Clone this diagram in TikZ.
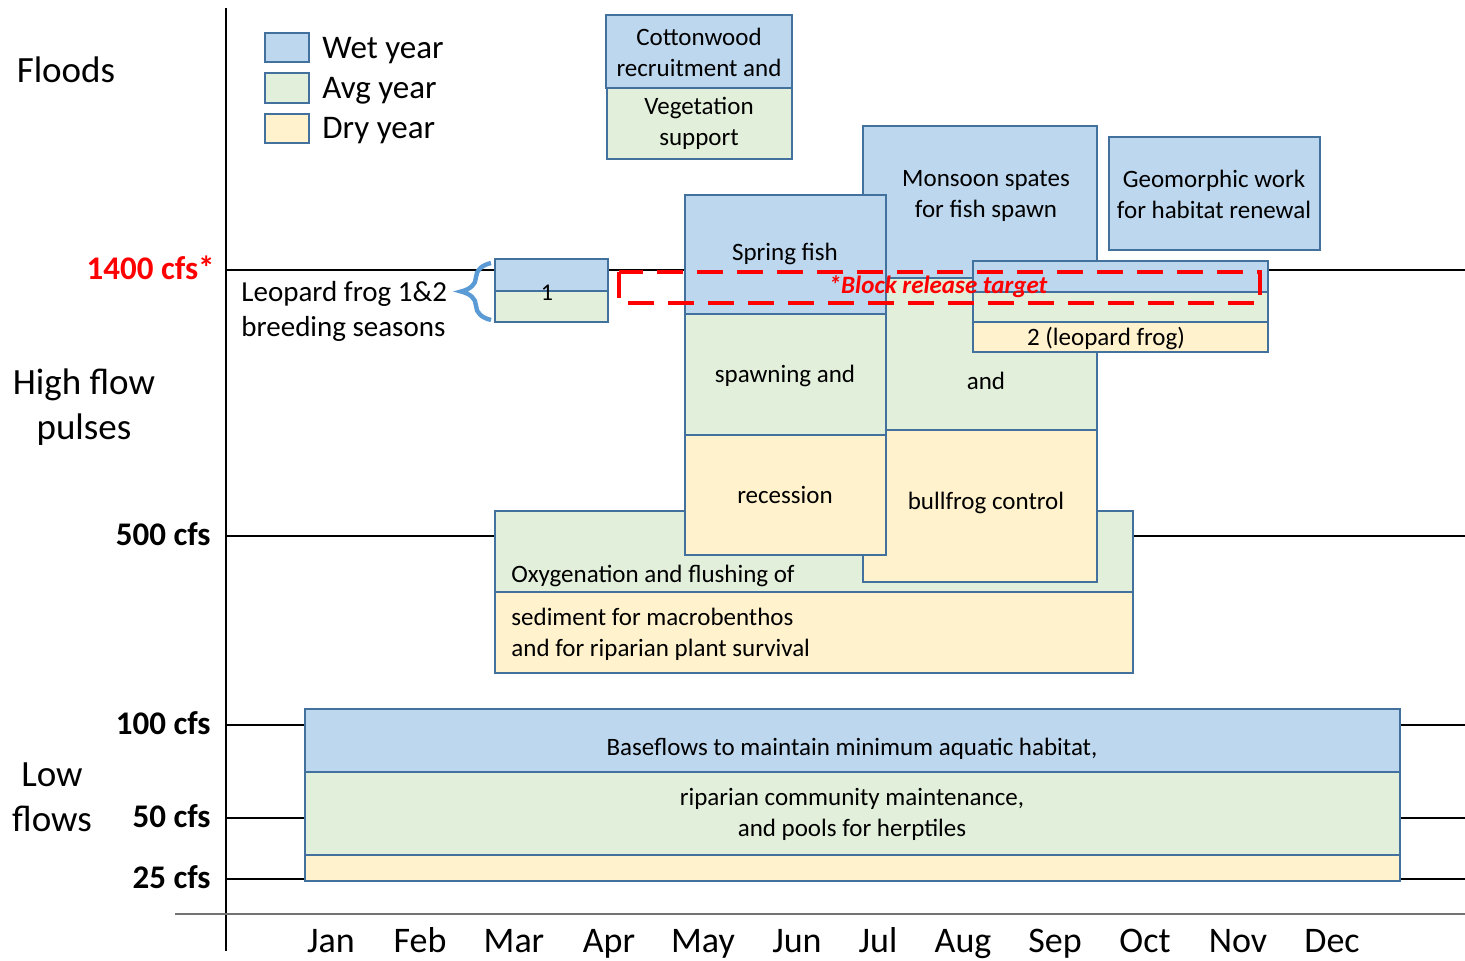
\documentclass[tikz,border=0pt]{standalone}
\usepackage{fontspec}
\setmainfont{Carlito}
\usetikzlibrary{decorations.pathreplacing}

\definecolor{wetfill}{RGB}{189,215,238}
\definecolor{avgfill}{RGB}{226,239,218}
\definecolor{dryfill}{RGB}{255,242,204}
\definecolor{boxline}{RGB}{65,113,156}
\definecolor{bracecol}{RGB}{91,155,213}

\begin{document}
\begin{tikzpicture}[
    x=0.5pt, y=-0.5pt,
    wet/.style = {draw=boxline, line width=1pt, fill=wetfill},
    avg/.style = {draw=boxline, line width=1pt, fill=avgfill},
    dry/.style = {draw=boxline, line width=1pt, fill=dryfill},
    gridline/.style = {line width=0.6pt},
    boxtext/.style = {font=\fontsize{12.5}{15.5}\selectfont, align=center, inner sep=0pt},
    zone/.style = {font=\fontsize{18.5}{22.5}\selectfont, align=center, inner sep=0pt},
    cfs/.style = {font=\bfseries\fontsize{16.5}{20}\selectfont, anchor=east, inner sep=0pt},
    legendtext/.style = {font=\fontsize{16.5}{20}\selectfont, anchor=base west, inner sep=0pt},
    month/.style = {font=\fontsize{18}{22}\selectfont, anchor=base, inner sep=0pt}]

    \useasboundingbox (0,0) rectangle (1465,961);

    % axes and flow levels
    \draw[gridline] (226,8) -- (226,951);
    \foreach \y in {270,536,725,818,879}
        \draw[gridline] (226,\y) -- (1465,\y);
    \draw[black!55, line width=1pt] (175,914) -- (1465,914);

    \node[cfs, red] (q1400) at (215,268) {1400 cfs*};
    \node[cfs] (q500) at (211,534) {500 cfs};
    \node[cfs] (q100) at (211,723) {100 cfs};
    \node[cfs] (q50) at (211,816) {50 cfs};
    \node[cfs] (q25) at (211,877) {25 cfs};

    \node[zone] (floods) at (66,70) {Floods};
    \node[zone] (pulses) at (84,407) {High flow\\pulses};
    \node[zone] (lowflows) at (52,797) {Low\\flows};

    \foreach \m/\x in {Jan/331, Feb/420, Mar/514, Apr/609, May/703, Jun/797,
                       Jul/878, Aug/963, Sep/1055, Oct/1145, Nov/1238, Dec/1332}
        \node[month] (m-\m) at (\x,952) {\m};

    % legend
    \draw[wet] (265,33) rectangle (309,62);
    \draw[avg] (265,73) rectangle (309,103);
    \draw[dry] (265,114) rectangle (309,143);
    \node[legendtext] (lg-wet) at (322,59) {Wet year};
    \node[legendtext] (lg-avg) at (322,99) {Avg year};
    \node[legendtext] (lg-dry) at (322,139) {Dry year};

    % oxygenation and flushing
    \draw[avg] (495,511) rectangle (1133,592);
    \draw[dry] (495,592) rectangle (1133,673);
    \node[boxtext, anchor=west] (oxy-a) at (511,576) {Oxygenation and flushing of};
    \node[boxtext, anchor=west, align=left] (oxy-d) at (511,634) {sediment for macrobenthos\\and for riparian plant survival};

    % monsoon spates
    \draw[wet] (863,126) rectangle (1097,278);
    \draw[avg] (863,278) rectangle (1097,430);
    \draw[dry] (863,430) rectangle (1097,582);
    \node[boxtext] (mon-w) at (986,196) {Monsoon spates\\for fish spawn};
    \node[boxtext] (mon-a) at (986,381) {and};
    \node[boxtext] (mon-d) at (986,503) {bullfrog control};

    % spring fish
    \draw[wet] (685,195) rectangle (886,314);
    \draw[avg] (685,314) rectangle (886,435);
    \draw[dry] (685,435) rectangle (886,555);
    \node[boxtext] (spr-w) at (785,254) {Spring fish};
    \node[boxtext] (spr-a) at (785,376) {spawning and};
    \node[boxtext] (spr-d) at (785,495) {recession};

    % leopard frog seasons
    \draw[wet] (973,261) rectangle (1268,292);
    \draw[avg] (973,292) rectangle (1268,322);
    \draw[dry] (973,322) rectangle (1268,352);
    \node[boxtext] (frog2) at (1106,339) {2 (leopard frog)};

    \draw[wet] (495,259) rectangle (608,291);
    \draw[avg] (495,291) rectangle (608,322);
    \node[boxtext, font=\fontsize{12}{14}\selectfont] (frog1) at (547,293) {1};

    \node[font=\fontsize{14.5}{17.5}\selectfont, align=left, anchor=west, inner sep=0pt] (frog-lbl) at (241,311) {Leopard frog 1\&2\\breeding seasons};
    \coordinate (br-bot) at (491,320);
    \coordinate (br-top) at (491,263);
    \draw[bracecol, line width=2.2pt, decorate, decoration={brace, amplitude=15pt}] (br-bot) -- (br-top);

    % cottonwood
    \draw[wet] (606,15) rectangle (792,88);
    \draw[avg] (607,88) rectangle (792,159);
    \node[boxtext] (cot-w) at (699,52) {Cottonwood\\recruitment and};
    \node[boxtext] (cot-a) at (699,123) {Vegetation\\support};

    % geomorphic work
    \draw[wet] (1109,137) rectangle (1320,250);
    \node[boxtext] (geo) at (1214,194) {Geomorphic work\\for habitat renewal};

    % baseflows
    \draw[wet] (305,709) rectangle (1400,772);
    \draw[avg] (305,772) rectangle (1400,855);
    \draw[dry] (305,855) rectangle (1400,881);
    \node[boxtext] (base-w) at (852,749) {Baseflows to maintain minimum aquatic habitat,};
    \node[boxtext] (base-a) at (852,814) {riparian community maintenance,\\and pools for herptiles};

    % block release
    \draw[red, line width=2pt, dash pattern=on 13pt off 7pt] (619,272) rectangle (1260,303);
    \node[red, font=\bfseries\itshape\fontsize{12.5}{15}\selectfont, inner sep=0pt] (block) at (938,287) {*Block release target};

\end{tikzpicture}
\end{document}
